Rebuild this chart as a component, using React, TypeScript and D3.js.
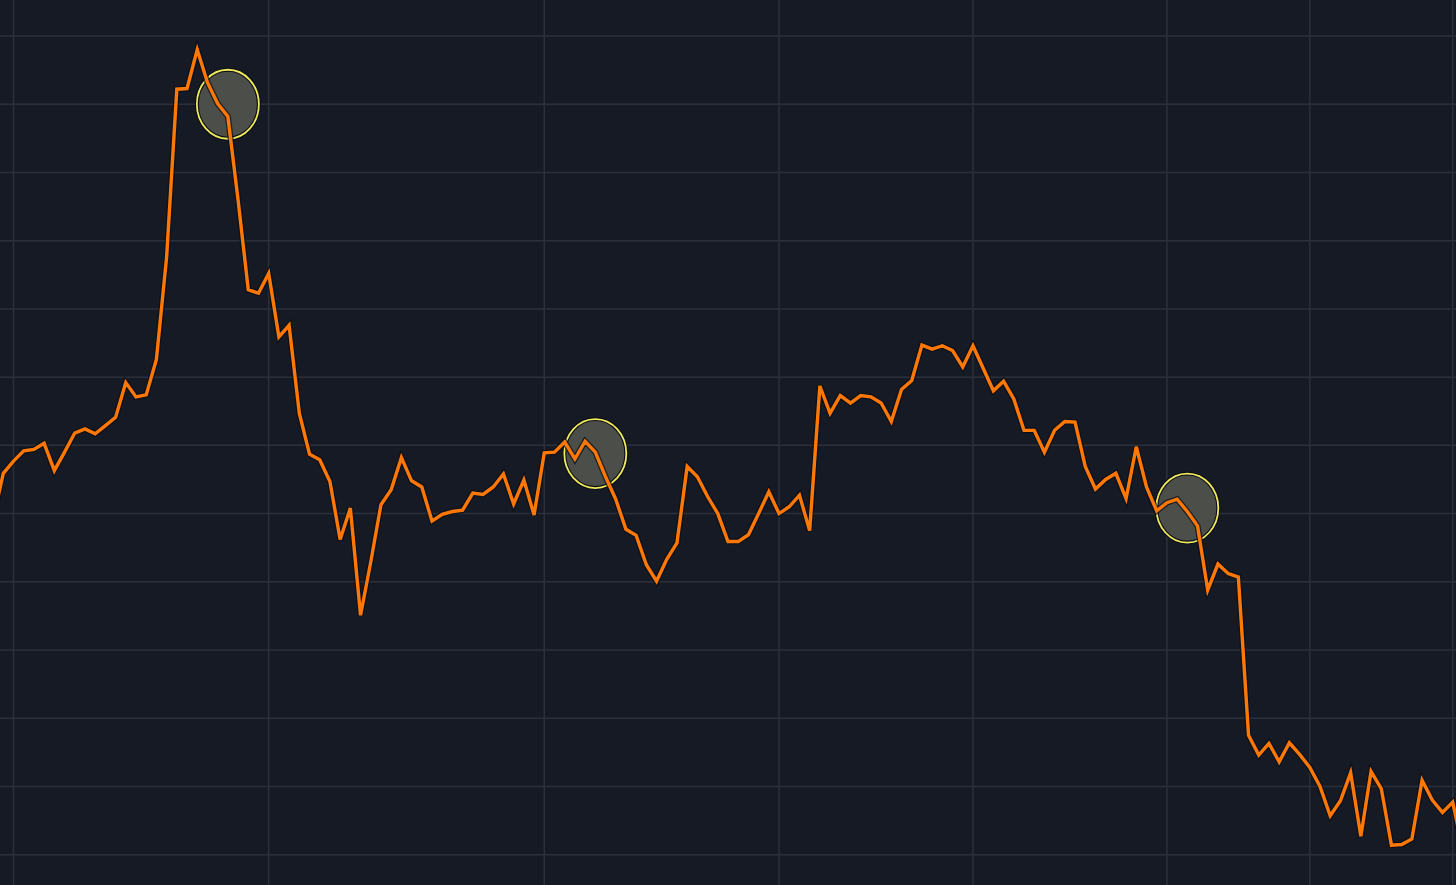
import React from "react";
import * as d3 from "d3";

const WIDTH = 1456;
const HEIGHT = 885;

// Series values, one per period (index -1 .. 143; first and last fall just outside the frame)
const startIndex = -1;
const values: number[] = [
  49.2, 55.9, 57.7, 59.2, 59.4, 60.3, 56.3, 59.0, 61.8, 62.4,
  61.7, 62.9, 64.1, 69.2, 67.1, 67.4, 72.6, 87.6, 112.2, 112.3,
  118.0, 113.2, 110.1, 108.2, 96.0, 82.8, 82.3, 85.2, 75.9, 77.6,
  64.7, 58.7, 57.9, 54.7, 46.2, 50.8, 35.1, 42.9, 51.3, 53.5,
  58.2, 54.8, 53.9, 48.9, 49.9, 50.3, 50.5, 53.0, 52.8, 53.9,
  55.8, 51.4, 54.9, 49.8, 58.9, 59.0, 60.5, 58.0, 60.6, 59.0,
  55.4, 52.1, 47.7, 46.8, 42.5, 40.1, 43.3, 45.7, 56.9, 55.4,
  52.5, 50.0, 45.9, 45.9, 46.9, 50.0, 53.2, 50.0, 51.0, 52.7,
  47.5, 68.7, 64.7, 67.3, 66.2, 67.3, 67.1, 66.2, 63.5, 68.2,
  69.5, 74.7, 74.1, 74.6, 73.9, 71.5, 74.6, 71.3, 68.0, 69.4,
  66.8, 62.2, 62.2, 59.0, 62.2, 63.5, 63.4, 56.9, 53.6, 55.0,
  55.9, 52.2, 59.8, 53.9, 50.4, 51.6, 52.1, 50.3, 48.2, 38.8,
  42.6, 41.2, 40.7, 17.5, 14.6, 16.3, 13.6, 16.4, 14.7, 12.8,
  10.0, 5.7, 7.9, 12.0, 2.7, 12.2, 9.7, 1.4, 1.5, 2.3,
  10.9, 8.0, 6.2, 7.7, 0.7,
];

// Vertical grid (period index) and horizontal grid (value) ticks
const xGridTicks: number[] = [1, 26, 53, 76, 95, 114, 128, 142];
const yGridTicks: number[] = [0, 10, 20, 30, 40, 50, 60, 70, 80, 90, 100, 110, 120];

// Highlighted points
const markerIndex: number[] = [22, 58, 116];
const markerValue: number[] = [110.0, 58.8, 50.8];

const BG = "#161a25";
const GRID = "#2c303b";
const LINE = "#ff7805";
const HALO = "#0b0e16";
const MARK_STROKE = "#efea5c";
const MARK_FILL = "#4c4e49";

export default function App() {
  const data = values.map((v, k) => ({ i: startIndex + k, v }));

  const x = d3.scaleLinear().domain([0, 142]).range([3.3, 1452.7]);
  const y = d3.scaleLinear().domain([0, 120]).range([854.7, 36]);

  const line = d3
    .line<{ i: number; v: number }>()
    .x((d) => x(d.i))
    .y((d) => y(d.v));
  const path = line(data) || "";

  const markers = markerIndex.map((mi, k) => ({ cx: x(mi), cy: y(markerValue[k]) }));

  return (
    <div style={{ position: "fixed", left: 0, top: 0, width: WIDTH, height: HEIGHT, background: BG }}>
      <svg width={WIDTH} height={HEIGHT} style={{ display: "block" }}>
        <rect x={0} y={0} width={WIDTH} height={HEIGHT} fill={BG} />
        <g>
          {yGridTicks.map((t) => (
            <line key={"h" + t} x1={0} x2={WIDTH} y1={y(t)} y2={y(t)} stroke={GRID} strokeWidth={1.5} />
          ))}
          {xGridTicks.map((t) => (
            <line key={"v" + t} x1={x(t)} x2={x(t)} y1={0} y2={HEIGHT} stroke={GRID} strokeWidth={1.5} />
          ))}
        </g>
        <g>
          {markers.map((m, k) => (
            <g key={"m" + k}>
              <ellipse cx={m.cx} cy={m.cy} rx={31} ry={34.5} fill={MARK_FILL} stroke={HALO} strokeWidth={4} />
              <ellipse cx={m.cx} cy={m.cy} rx={31} ry={34.5} fill="none" stroke={MARK_STROKE} strokeWidth={1.8} />
            </g>
          ))}
        </g>
        <path d={path} fill="none" stroke={HALO} strokeWidth={6} strokeOpacity={0.7} />
        <path d={path} fill="none" stroke={LINE} strokeWidth={3.4} />
      </svg>
    </div>
  );
}
